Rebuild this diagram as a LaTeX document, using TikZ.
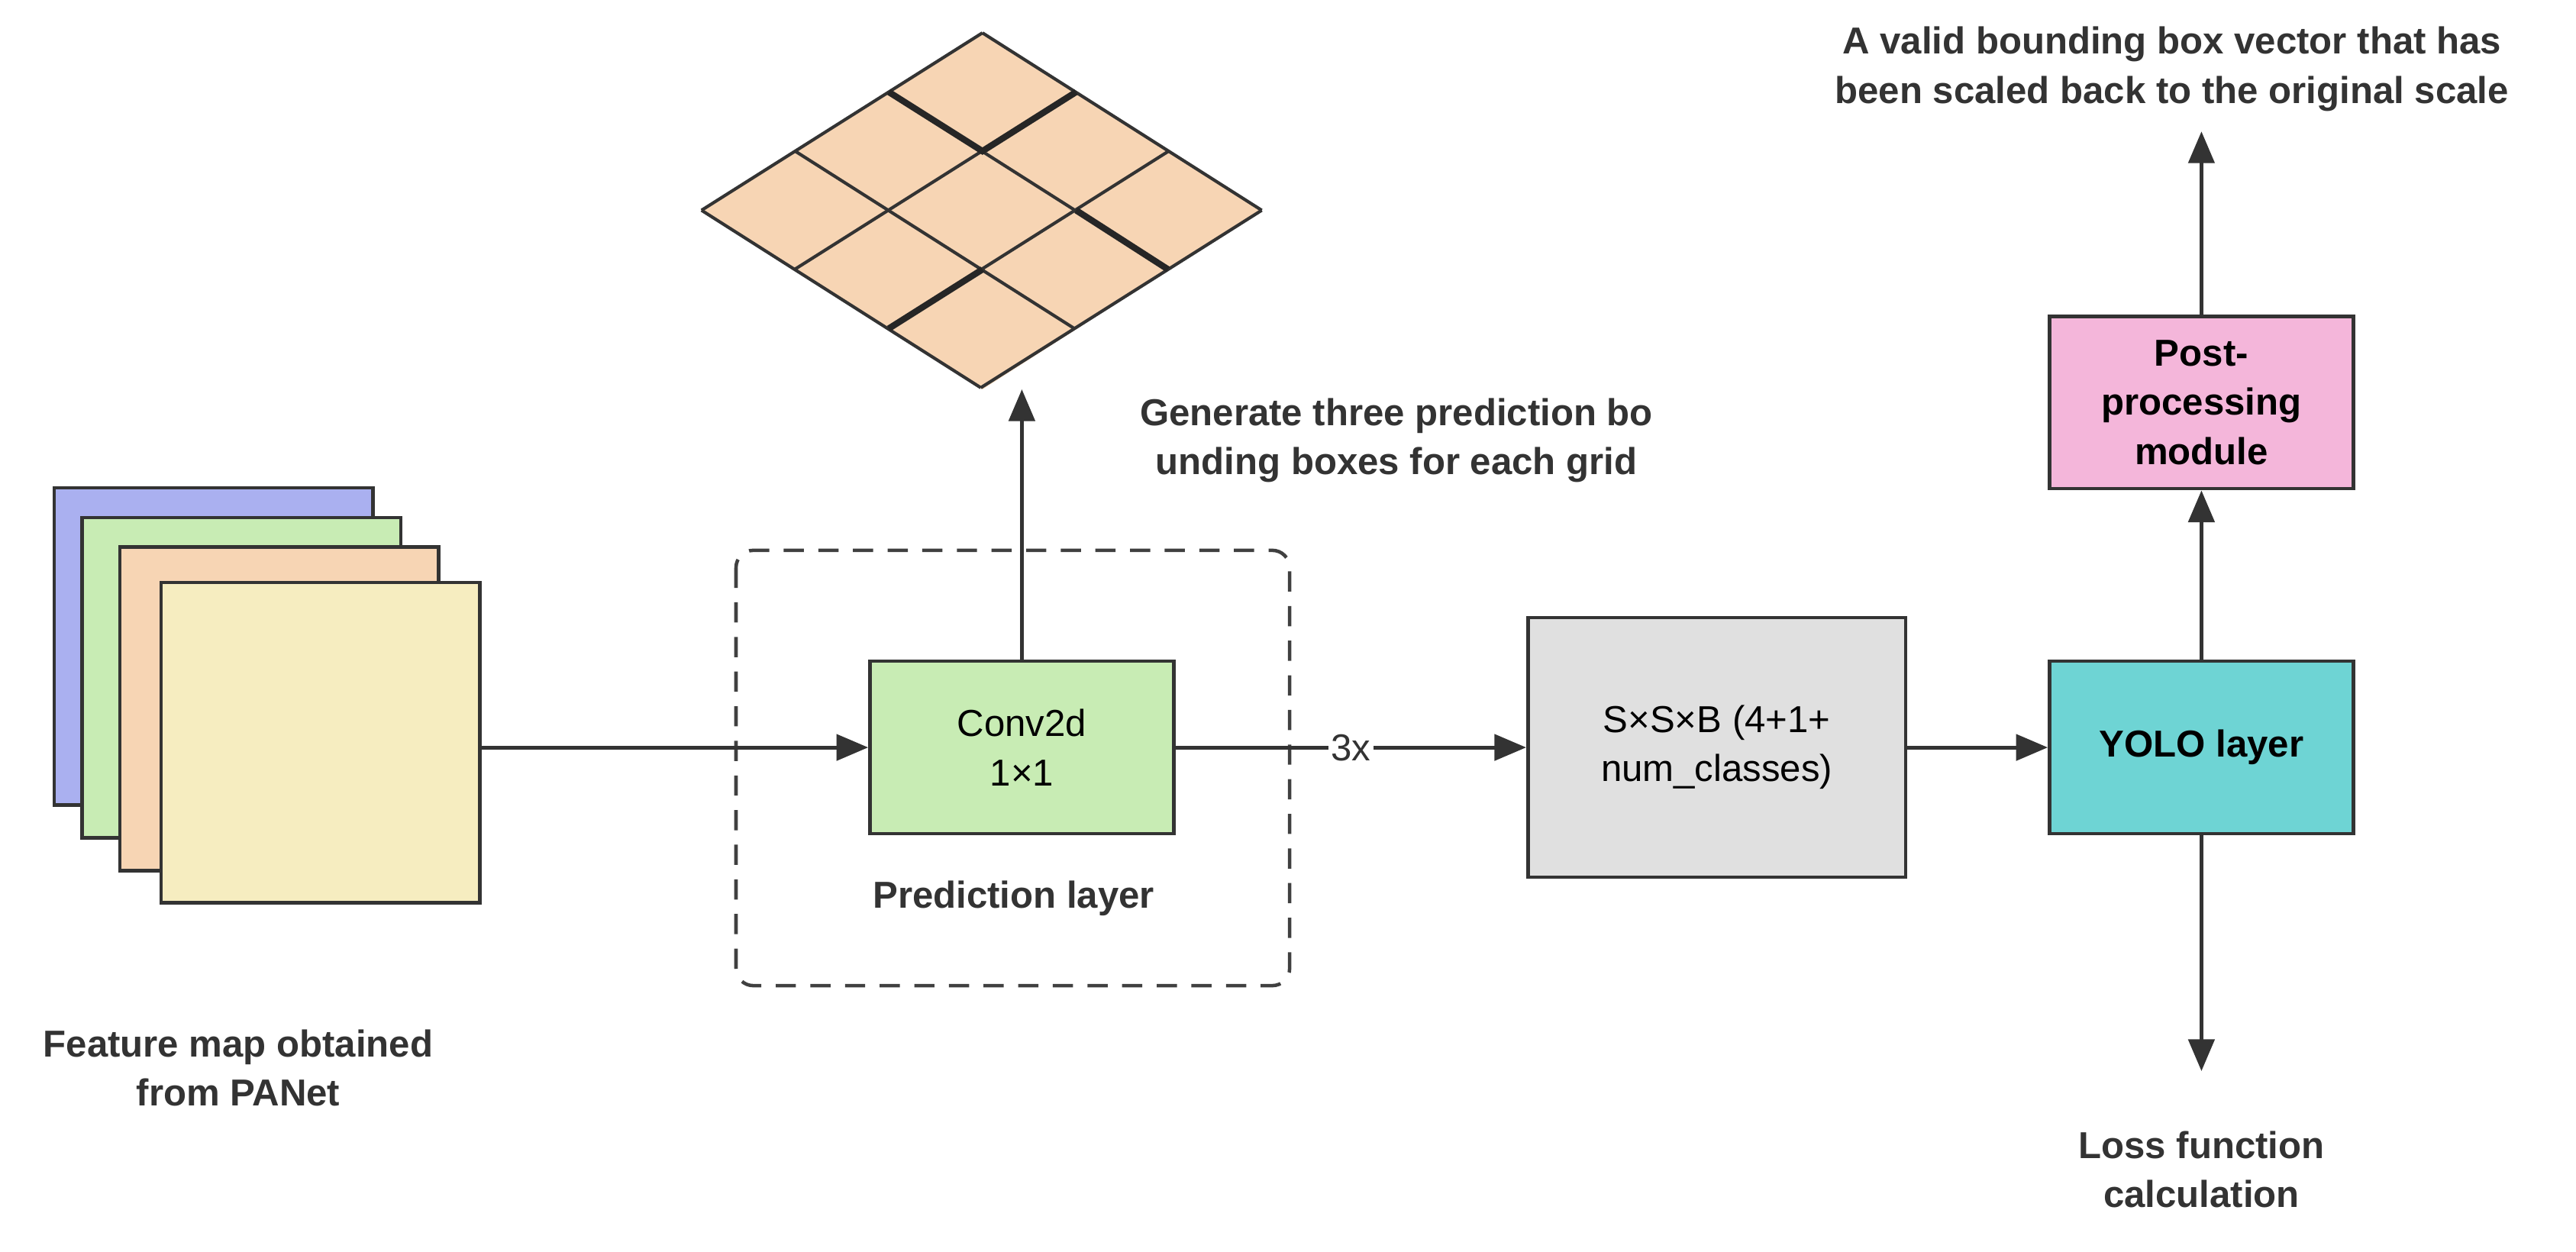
\documentclass[tikz,border=0pt]{standalone}
\usepackage{fontspec}
\setmainfont{Liberation Sans}
\usetikzlibrary{arrows.meta}
\definecolor{cblue}{RGB}{170,176,240}
\definecolor{cgreen}{RGB}{200,236,180}
\definecolor{corange}{RGB}{247,213,180}
\definecolor{cyellow}{RGB}{246,237,192}
\definecolor{cgray}{RGB}{224,224,224}
\definecolor{cteal}{RGB}{110,212,212}
\definecolor{cpink}{RGB}{244,182,218}
\begin{document}
\begin{tikzpicture}[x=0.02cm,y=-0.02cm,
  box/.style={draw=black!80,line width=1.2pt,minimum width=3.7cm,minimum height=2.1cm,align=center,font=\fontsize{13}{17}\selectfont},
  fm/.style={draw=black!80,line width=1.2pt},
  arr/.style={-{Triangle[length=11pt,width=9pt]},line width=1.3pt,draw=black!80},
  lbl/.style={font=\bfseries\fontsize{13}{17}\selectfont,text=black!80,align=center}]
\useasboundingbox (0,0) rectangle (1568,762);
% feature maps
\draw[fm,fill=cblue] (33,297) rectangle (227,490);
\draw[fm,fill=cgreen] (50,315) rectangle (244,510);
\draw[fm,fill=corange] (73,333) rectangle (267,530);
\node[fm,fill=cyellow,minimum width=3.88cm,minimum height=3.9cm,inner sep=0pt] (fmap) at (195,452) {};
% grid
\fill[corange] (598,20) -- (768,128) -- (598,237) -- (427,128) -- cycle;
\foreach \i in {0,...,3}{
  \draw[black!80,line width=1.1pt] ({598-57*\i},{20+36*\i}) -- ({768-57*\i},{128+36*\i});
  \draw[black!80,line width=1.1pt] ({598+56.67*\i},{20+36*\i}) -- ({427+56.67*\i},{128+36*\i});
}
\draw[black!85,line width=2.2pt] (541,56) -- (598,92) -- (655,56);
\draw[black!85,line width=2.2pt] (655,128) -- (711,164);
\draw[black!85,line width=2.2pt] (541,200) -- (598,164);
\node[coordinate] (gridb) at (622,237) {};
% dashed box
\draw[black!75,line width=1.2pt,dash pattern=on 7pt off 5pt,rounded corners=6pt] (448,335) rectangle (785,600);
\node[box,fill=cgreen] (conv) at (622,455) {Conv2d\\1×1};
\node[box,fill=cgray,minimum width=4.6cm,minimum height=3.16cm] (ssb) at (1045,455) {S×S×B (4+1+\\num\_classes)};
\node[box,fill=cteal,font=\bfseries\fontsize{13}{17}\selectfont] (yolo) at (1340,455) {YOLO layer};
\node[box,fill=cpink,font=\bfseries\fontsize{13}{17}\selectfont] (post) at (1340,245) {Post-\\processing\\module};
% labels
\node[lbl] at (850,268) {Generate three prediction bo\\unding boxes for each grid};
\node[lbl] at (617,547) {Prediction layer};
\node[lbl] at (145,650) {Feature map obtained\\from PANet};
\node[lbl] at (1322,42) {A valid bounding box vector that has\\been scaled back to the original scale};
\node[lbl] at (1340,712) {Loss function\\calculation};
\node[coordinate] (topend) at (1340,80) {};
\node[coordinate] (botend) at (1340,652) {};
% arrows
\draw[arr] (fmap.east |- conv) -- (conv.west);
\draw[arr] (conv.north) -- (gridb);
\draw[arr] (conv.east) -- node[fill=white,inner sep=1pt,font=\fontsize{13}{15}\selectfont,text=black!80]{3x} (ssb.west);
\draw[arr] (ssb.east |- yolo) -- (yolo.west);
\draw[arr] (yolo.north) -- (post.south);
\draw[arr] (post.north) -- (topend);
\draw[arr] (yolo.south) -- (botend);
\end{tikzpicture}
\end{document}
